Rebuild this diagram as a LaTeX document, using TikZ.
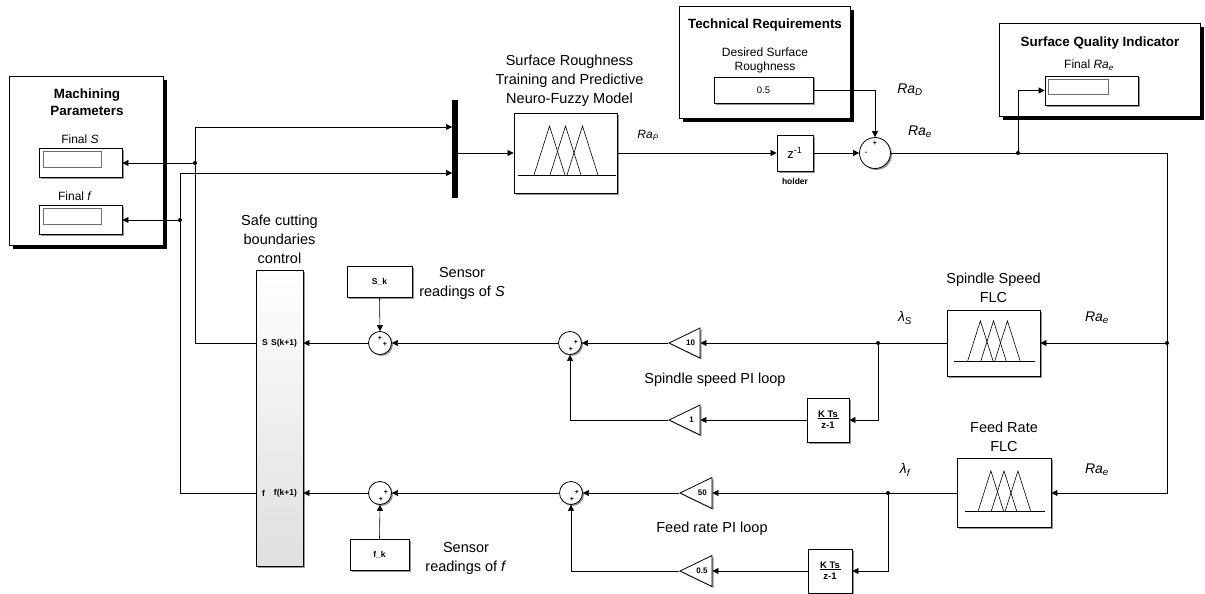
\documentclass[tikz,border=0pt]{standalone}
\usepackage{fontspec}
\setmainfont{Liberation Sans}
\usepackage{tikz}
\usetikzlibrary{positioning,arrows.meta,calc,shapes.geometric,shadows}
\definecolor{ShadowGray}{RGB}{150,150,150}
\definecolor{ScreenGray}{RGB}{110,110,110}

\tikzset{
  wire/.style={line width=0.6pt},
  sig/.style={wire,-{Triangle[length=6pt,width=6pt]}},
  blk/.style={draw,line width=0.8pt,fill=white,inner sep=0pt,
    drop shadow={shadow xshift=1.5pt,shadow yshift=-1.5pt,fill=ShadowGray,opacity=1}},
  panel/.style={draw,line width=1pt,fill=white,inner sep=0pt,
    drop shadow={shadow xshift=3.5pt,shadow yshift=-3.5pt,fill=black,opacity=1}},
  screen/.style={draw=ScreenGray,line width=0.5pt,fill=white,inner sep=0pt},
  sumnode/.style={blk,circle,minimum size=23pt},
  gain/.style={blk,isosceles triangle,shape border rotate=180,isosceles triangle stretches,
    minimum height=31pt,minimum width=30pt,anchor=apex,font=\fontsize{8}{9}\selectfont\bfseries},
  txt/.style={align=center,font=\fontsize{14.5}{19}\selectfont},
  ttl/.style={align=center,font=\fontsize{13.4}{16.5}\selectfont\bfseries},
  lblsmall/.style={align=center,font=\fontsize{12}{14}\selectfont},
  lblra/.style={font=\fontsize{14}{16}\selectfont\itshape},
  blktxt/.style={font=\fontsize{8.5}{10}\selectfont\bfseries},
  sgn/.style={inner sep=0pt,font=\fontsize{7}{7}\selectfont\bfseries},
  mf/.pic={
    \draw[line width=0.7pt] (-48,22) -- (50,22);
    \foreach \p in {-16,0,17}{\draw[line width=0.6pt] (\p-15.5,22) -- (\p,-27) -- (\p+15.5,22);}
  }
}
\newcommand{\ktsfrac}{\shortstack{K Ts\\[-3pt]\rule{21pt}{0.8pt}\\[1pt]z-1}}

\begin{document}
\begin{tikzpicture}[x=1pt,y=-1pt]
\useasboundingbox (0,0) rectangle (1205,594);

% machining parameters
\node[panel,minimum width=154pt,minimum height=168pt] (mp) at (86,161) {};
\node[ttl] (mpT) at (87,102) {Machining\\Parameters};
\node[lblsmall] (dST) at (80,139) {Final \textit{S}};
\node[blk,minimum width=83pt,minimum height=29pt] (dS) at (80.5,162.5) {};
\node[screen,minimum width=58pt,minimum height=16pt] (dSi) at (72,159) {};
\node[lblsmall] (dFT) at (75,196) {Final \textit{f}};
\node[blk,minimum width=83pt,minimum height=29pt] (dF) at (80.5,219.5) {};
\node[screen,minimum width=58pt,minimum height=16pt] (dFi) at (72,216) {};

% technical requirements
\node[panel,minimum width=171pt,minimum height=111pt] (tr) at (764.5,62.5) {};
\node[ttl] (trT) at (765,25) {Technical Requirements};
\node[lblsmall] (cstT) at (765,60) {Desired Surface\\Roughness};
\node[blk,minimum width=99pt,minimum height=26pt,font=\fontsize{9.5}{10}\selectfont] (cst) at (763.5,90) {0.5};

% surface quality indicator
\node[panel,minimum width=201pt,minimum height=92pt] (sq) at (1099.5,70) {};
\node[ttl] (sqT) at (1100,43) {Surface Quality Indicator};
\node[lblsmall] (dQT) at (1089,65) {Final \textit{Ra\textsubscript{e}}};
\node[blk,minimum width=93pt,minimum height=29pt] (dQ) at (1091.5,90.5) {};
\node[screen,minimum width=60pt,minimum height=15pt] (dQi) at (1078,86.5) {};

% mux, neuro-fuzzy model, holder
\node[fill,minimum width=6pt,minimum height=98pt,inner sep=0pt] (mux) at (455,149) {};
\node[blk,minimum width=103pt,minimum height=80pt] (fis) at (565.5,153) {};
\pic at (fis) {mf};
\node[txt,above=3pt of fis,xshift=4pt] (fisT) {Surface Roughness\\Training and Predictive\\Neuro-Fuzzy Model};
\node[blk,minimum size=36pt,font=\fontsize{13}{14}\selectfont] (hold) at (795,153) {z\textsuperscript{-1}};
\node[blktxt,below=3pt of hold] (holdT) {holder};
\node[sumnode,minimum size=31pt] (sumE) at (875,153) {};
\node[sgn] at ([shift={(0,-10)}]sumE.center) {+};
\node[sgn] at ([shift={(-9,0)}]sumE.center) {-};

% fuzzy logic controllers
\node[blk,minimum width=93pt,minimum height=66pt] (flcS) at (993.5,343) {};
\pic[scale=0.82] at (flcS) {mf};
\node[txt,above=3pt of flcS] (flcST) {Spindle Speed\\FLC};
\node[blk,minimum width=94pt,minimum height=69pt] (flcF) at (1004,493) {};
\pic[scale=0.82] at (flcF) {mf};
\node[txt,above=3pt of flcF] (flcFT) {Feed Rate\\FLC};

% PI loops
\node[gain] (g10) at (668,343) {10};
\node[gain] (g1) at (668,420) {1};
\node[blk,blktxt,font=\fontsize{9.5}{10}\selectfont\bfseries,minimum width=42pt,minimum height=44pt] (kS) at (828,420) {\ktsfrac};
\node[sumnode] (sum2) at (570,343) {};
\node[sgn] at ([shift={(6,-1)}]sum2.center) {+};
\node[sgn] at ([shift={(1,6)}]sum2.center) {+};
\node[gain,minimum height=32pt,minimum width=31pt] (g50) at (679,493) {50};
\node[gain,minimum height=32pt,minimum width=31pt] (g05) at (679,571) {0.5};
\node[blk,blktxt,font=\fontsize{9.5}{10}\selectfont\bfseries,minimum width=44pt,minimum height=44pt] (kF) at (830,571) {\ktsfrac};
\node[sumnode] (sum3) at (571,493) {};
\node[sgn] at ([shift={(6,-1)}]sum3.center) {+};
\node[sgn] at ([shift={(1,6)}]sum3.center) {+};
\node[txt] (piS) at (715,380) {Spindle speed PI loop};
\node[txt] (piF) at (712,529) {Feed rate PI loop};

% sensors and safe cutting block
\node[sumnode] (sum1) at (380,343) {};
\node[sgn] at ([shift={(0,-5)}]sum1.center) {+};
\node[sgn] at ([shift={(5,1)}]sum1.center) {+};
\node[sumnode] (sum4) at (380,493) {};
\node[sgn] at ([shift={(6,-1)}]sum4.center) {+};
\node[sgn] at ([shift={(1,6)}]sum4.center) {+};
\node[blk,blktxt,minimum width=65pt,minimum height=31pt] (sK) at (379.5,281.5) {S\_k};
\node[blk,blktxt,minimum width=59pt,minimum height=31pt] (fK) at (379.5,554.5) {f\_k};
\node[txt] (sKT) at (462,283) {Sensor\\readings of \textit{S}};
\node[txt] (fKT) at (466,558) {Sensor\\readings of \textit{f}};
\node[blk,top color=white,bottom color=gray!25,minimum width=47pt,minimum height=296pt] (safe) at (279.5,418) {};
\node[txt,above=2pt of safe] (safeT) {Safe cutting\\boundaries\\control};
\node[blktxt,anchor=west] at ([xshift=3pt]safe.west |- sum1) {S};
\node[blktxt,anchor=east] at ([xshift=-3pt]safe.east |- sum1) {S(k+1)};
\node[blktxt,anchor=west] at ([xshift=3pt]safe.west |- sum4) {f};
\node[blktxt,anchor=east] at ([xshift=-3pt]safe.east |- sum4) {f(k+1)};

% signal labels
\node[lblra,font=\fontsize{12}{14}\selectfont\itshape] (raP) at (648,135) {Ra\textsubscript{P}};
\node[lblra] (raD) at (910,90) {Ra\textsubscript{D}};
\node[lblra] (raE) at (920,132) {Ra\textsubscript{e}};
\node[lblra] (raS) at (1097,318) {Ra\textsubscript{e}};
\node[lblra] (raF) at (1097,470) {Ra\textsubscript{e}};
\node[lblra] (lamS) at (905,318) {λ\textsubscript{S}};
\node[lblra] (lamF) at (905,470) {λ\textsubscript{f}};

% branch points
\coordinate (jS) at (195,163);
\coordinate (jF) at (180,220);
\coordinate (mS) at (452,127);
\coordinate (mF) at (452,173);
\coordinate (jQ) at (1018,153);
\coordinate (jR) at (1167,343);
\coordinate (jS2) at (878,343);
\coordinate (jF2) at (888,493);

% connectors
\draw[sig] (safe.west |- sum1) -| (jS |- mS) -- (mS);
\draw[sig] (jS) -- (jS -| dS.east);
\draw[sig] (safe.west |- sum4) -| (jF |- mF) -- (mF);
\draw[sig] (jF) -- (jF -| dF.east);
\draw[sig] (mux.east |- fis.west) -- (fis.west);
\draw[sig] (fis.east) -- (hold.west);
\draw[sig] (hold.east) -- (sumE.west);
\draw[sig] (cst.east) -| (sumE.north);
\draw[sig] (sumE.east) -| (jR) |- (flcF.east);
\draw[sig] (jR) -- (flcS.east);
\draw[sig] (jQ) |- (dQ.west);
\draw[sig] (flcS.west) -- (g10.lower side);
\draw[sig] (jS2) |- (kS.east);
\draw[sig] (kS.west) -- (g1.lower side);
\draw[sig] (g10.apex) -- (sum2.east);
\draw[sig] (g1.apex) -| (sum2.south);
\draw[sig] (sum2.west) -- (sum1.east);
\draw[sig] (sK.south) -- (sum1.north);
\draw[sig] (sum1.west) -- (safe.east |- sum1);
\draw[sig] (flcF.west) -- (g50.lower side);
\draw[sig] (jF2) |- (kF.east);
\draw[sig] (kF.west) -- (g05.lower side);
\draw[sig] (g50.apex) -- (sum3.east);
\draw[sig] (g05.apex) -| (sum3.south);
\draw[sig] (sum3.west) -- (sum4.east);
\draw[sig] (fK.north) -- (sum4.south);
\draw[sig] (sum4.west) -- (safe.east |- sum4);
\foreach \j in {jS,jF,jQ,jR,jS2,jF2} \fill (\j) circle (2pt);
\end{tikzpicture}
\end{document}
